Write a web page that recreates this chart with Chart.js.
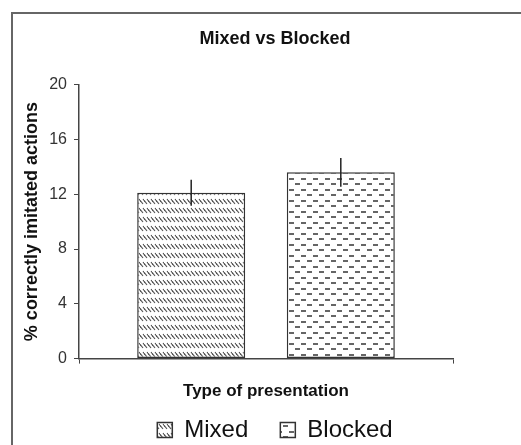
<!DOCTYPE html>
<html>
<head>
    <title>Mixed vs Blocked</title>
    <style>
        body {
            margin: 0;
            overflow: hidden;
            background: #fff;
        }

        .frame {
            position: absolute;
            left: 11px;
            top: 12px;
            width: 600px;
            height: 500px;
            border: 2px solid #666;
        }

        .holder {
            position: absolute;
            left: 0;
            top: 0;
            width: 532px;
            height: 452px;
        }
    </style>
    <script src="https://cdn.jsdelivr.net/npm/chart.js"></script>
</head>
<body>
    <div class="frame"></div>
    <div class="holder">
        <canvas id="barCanvas"></canvas>
    </div>

    <script>
        // values
        const categories = ['Type of presentation'];
        const seriesNames = ['Mixed', 'Blocked'];
        const mixedValues = [12.1];
        const blockedValues = [13.6];
        const mixedErrors = [0.95];
        const blockedErrors = [1.05];
        const yTicks = [0, 4, 8, 12, 16, 20];

        const fontFamily = "'Liberation Sans', Arial, sans-serif";

        // backslash hatching, rows of short strokes
        function mixedPattern() {
            const c = document.createElement('canvas');
            c.width = 4;
            c.height = 9;
            const g = c.getContext('2d');
            g.fillStyle = '#fff';
            g.fillRect(0, 0, 4, 9);
            g.strokeStyle = '#555';
            g.lineWidth = 1.2;
            for (let dx = -4; dx <= 4; dx += 4) {
                g.beginPath();
                g.moveTo(dx - 1, 1);
                g.lineTo(dx + 3, 6);
                g.stroke();
            }
            return g.createPattern(c, 'repeat');
        }

        // staggered short horizontal dashes
        function blockedPattern() {
            const c = document.createElement('canvas');
            c.width = 12;
            c.height = 11;
            const g = c.getContext('2d');
            g.fillStyle = '#fff';
            g.fillRect(0, 0, 12, 11);
            g.fillStyle = '#666';
            g.fillRect(1, 2, 5, 2);
            g.fillRect(7, 7, 5, 2);
            return g.createPattern(c, 'repeat');
        }

        const errorBars = {
            id: 'errorBars',
            afterDatasetsDraw(chart) {
                const ctx = chart.ctx;
                const y = chart.scales.y;
                const errs = [mixedErrors, blockedErrors];
                ctx.save();
                ctx.strokeStyle = '#222';
                ctx.lineWidth = 1.5;
                chart.data.datasets.forEach((ds, i) => {
                    const meta = chart.getDatasetMeta(i);
                    meta.data.forEach((bar, j) => {
                        const v = ds.data[j];
                        const e = errs[i][j];
                        ctx.beginPath();
                        ctx.moveTo(bar.x, y.getPixelForValue(v + e));
                        ctx.lineTo(bar.x, y.getPixelForValue(v - e));
                        ctx.stroke();
                    });
                });
                ctx.restore();
            }
        };

        const ctx = document.getElementById('barCanvas').getContext('2d');

        new Chart(ctx, {
            type: 'bar',
            data: {
                labels: categories,
                datasets: [
                    {
                        label: seriesNames[0],
                        data: mixedValues,
                        backgroundColor: mixedPattern(),
                        borderColor: '#333',
                        borderWidth: 1.5,
                        borderSkipped: false
                    },
                    {
                        label: seriesNames[1],
                        data: blockedValues,
                        backgroundColor: blockedPattern(),
                        borderColor: '#333',
                        borderWidth: 1.5,
                        borderSkipped: false
                    }
                ]
            },
            options: {
                responsive: true,
                maintainAspectRatio: false,
                animation: false,
                categoryPercentage: 0.8,
                barPercentage: 0.722,
                layout: {
                    padding: { left: 18, top: 0, right: 0, bottom: 0 }
                },
                plugins: {
                    title: {
                        display: true,
                        text: 'Mixed vs Blocked',
                        color: '#111',
                        font: { family: fontFamily, size: 18, weight: 'bold' },
                        padding: { top: 28, bottom: 35 }
                    },
                    legend: {
                        position: 'bottom',
                        labels: {
                            color: '#111',
                            boxWidth: 15,
                            boxHeight: 15,
                            padding: 32,
                            font: { family: fontFamily, size: 24 }
                        }
                    },
                    tooltip: { enabled: false }
                },
                scales: {
                    x: {
                        grid: {
                            drawOnChartArea: false,
                            color: '#444',
                            tickLength: 5
                        },
                        border: { color: '#444', width: 1.5 },
                        ticks: { display: false },
                        title: {
                            display: true,
                            text: 'Type of presentation',
                            color: '#111',
                            font: { family: fontFamily, size: 17, weight: 'bold' },
                            padding: { top: 18, bottom: -16 }
                        }
                    },
                    y: {
                        min: 0,
                        max: 20,
                        afterBuildTicks(scale) {
                            scale.ticks = yTicks.map(v => ({ value: v }));
                        },
                        afterFit(scale) {
                            scale.width = 61;
                        },
                        grid: {
                            drawOnChartArea: false,
                            color: '#444',
                            tickLength: 5
                        },
                        border: { color: '#444', width: 1.5 },
                        ticks: {
                            color: '#333',
                            padding: 7,
                            font: { family: fontFamily, size: 16 }
                        },
                        title: {
                            display: true,
                            text: '% correctly imitated actions',
                            color: '#111',
                            font: { family: fontFamily, size: 18, weight: 'bold' },
                            padding: { top: 3, bottom: 0 }
                        }
                    },
                    yRight: {
                        position: 'right',
                        display: true,
                        grid: { display: false },
                        border: { display: false },
                        ticks: { display: false },
                        afterFit(scale) {
                            scale.width = 79;
                        }
                    }
                }
            },
            plugins: [errorBars]
        });
    </script>
</body>
</html>
